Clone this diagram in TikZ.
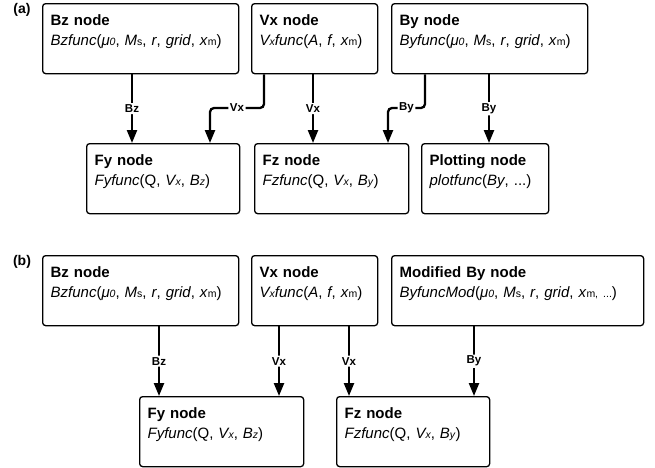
\documentclass[tikz,border=0pt]{standalone}
\usepackage{fontspec}
\setmainfont{Liberation Sans}
\usetikzlibrary{arrows.meta}

\newcommand{\smallsub}[1]{{\fontsize{10.5}{10.5}\selectfont #1}}

\tikzset{
    block/.style={draw, line width=1.3pt, rounded corners=3pt, anchor=north west,
        inner xsep=8pt, inner ysep=6pt, text height=16pt, text depth=42pt,
        font=\fontsize{15}{19.5}\selectfont},
    flow/.style={line width=2.3pt, rounded corners=4pt, -{Triangle[length=13pt,width=10pt]}},
    flowlabel/.style={fill=white, inner sep=1.5pt, font=\fontsize{11.5}{11.5}\selectfont\bfseries},
    panel/.style={font=\fontsize{14}{14}\selectfont\bfseries}
}

\begin{document}
\begin{tikzpicture}[x=1pt, y=-1pt]
    \useasboundingbox (0,0) rectangle (655,467);

    % panel (a)
    \node[panel] (pa) at (22,10) {(a)};

    \node[block, text width=180pt] (bza) at (42,3)
        {\textbf{Bz node}\\\textit{Bzfunc}(\textit{μ\smallsub{0}}, \textit{M}\smallsub{s}, \textit{r}, \textit{grid}, \textit{x}\smallsub{m})};
    \node[block, text width=110pt] (vxa) at (251,3)
        {\textbf{Vx node}\\\textit{V\smallsub{x}func}(\textit{A}, \textit{f}, \textit{x}\smallsub{m})};
    \node[block, text width=180pt] (bya) at (391,3)
        {\textbf{By node}\\\textit{Byfunc}(\textit{μ\smallsub{0}}, \textit{M}\smallsub{s}, \textit{r}, \textit{grid}, \textit{x}\smallsub{m})};

    \node[block, text width=137pt] (fya) at (86,143)
        {\textbf{Fy node}\\\textit{Fyfunc}(Q, \textit{V\smallsub{x}}, \textit{B\smallsub{z}})};
    \node[block, text width=138pt] (fza) at (254,143)
        {\textbf{Fz node}\\\textit{Fzfunc}(Q, \textit{V\smallsub{x}}, \textit{B\smallsub{y}})};
    \node[block, text width=111pt] (plt) at (421,143)
        {\textbf{Plotting node}\\\textit{plotfunc}(\textit{By}, ...)};

    \draw[flow] (bza.south -| 132,0) -- node[flowlabel] (la1) {Bz} (fya.north -| 132,0);
    \draw[flow] (vxa.south -| 264,0) -- (264,108) -- node[flowlabel] (la2) {Vx} (210,108) -- (fya.north -| 210,0);
    \draw[flow] (vxa.south -| 313,0) -- node[flowlabel] (la3) {Vx} (fza.north -| 313,0);
    \draw[flow] (bya.south -| 425,0) -- (425,108) -- node[flowlabel] (la4) {By} (388,108) -- (fza.north -| 388,0);
    \draw[flow] (bya.south -| 489,0) -- node[flowlabel] (la5) {By} (plt.north -| 489,0);

    % panel (b)
    \node[panel] (pb) at (22,262) {(b)};

    \node[block, text width=180pt] (bzb) at (42,255)
        {\textbf{Bz node}\\\textit{Bzfunc}(\textit{μ\smallsub{0}}, \textit{M}\smallsub{s}, \textit{r}, \textit{grid}, \textit{x}\smallsub{m})};
    \node[block, text width=110pt] (vxb) at (251,255)
        {\textbf{Vx node}\\\textit{V\smallsub{x}func}(\textit{A}, \textit{f}, \textit{x}\smallsub{m})};
    \node[block, text width=236pt] (mby) at (391,255)
        {\textbf{Modified By node}\\\textit{ByfuncMod}(\textit{μ\smallsub{0}}, \textit{M}\smallsub{s}, \textit{r}, \textit{grid}, \textit{x}\smallsub{m, ...})};

    \node[block, text width=148pt] (fyb) at (139,396)
        {\textbf{Fy node}\\\textit{Fyfunc}(Q, \textit{V\smallsub{x}}, \textit{B\smallsub{z}})};
    \node[block, text width=137pt] (fzb) at (336,396)
        {\textbf{Fz node}\\\textit{Fzfunc}(Q, \textit{V\smallsub{x}}, \textit{B\smallsub{y}})};

    \draw[flow] (bzb.south -| 159,0) -- node[flowlabel] (lb1) {Bz} (fyb.north -| 159,0);
    \draw[flow] (vxb.south -| 279,0) -- node[flowlabel] (lb2) {Vx} (fyb.north -| 279,0);
    \draw[flow] (vxb.south -| 349,0) -- node[flowlabel] (lb3) {Vx} (fzb.north -| 349,0);
    \draw[flow] (mby.south -| 474,0) -- node[flowlabel] (lb4) {By} (fzb.north -| 474,0);
\end{tikzpicture}
\end{document}
